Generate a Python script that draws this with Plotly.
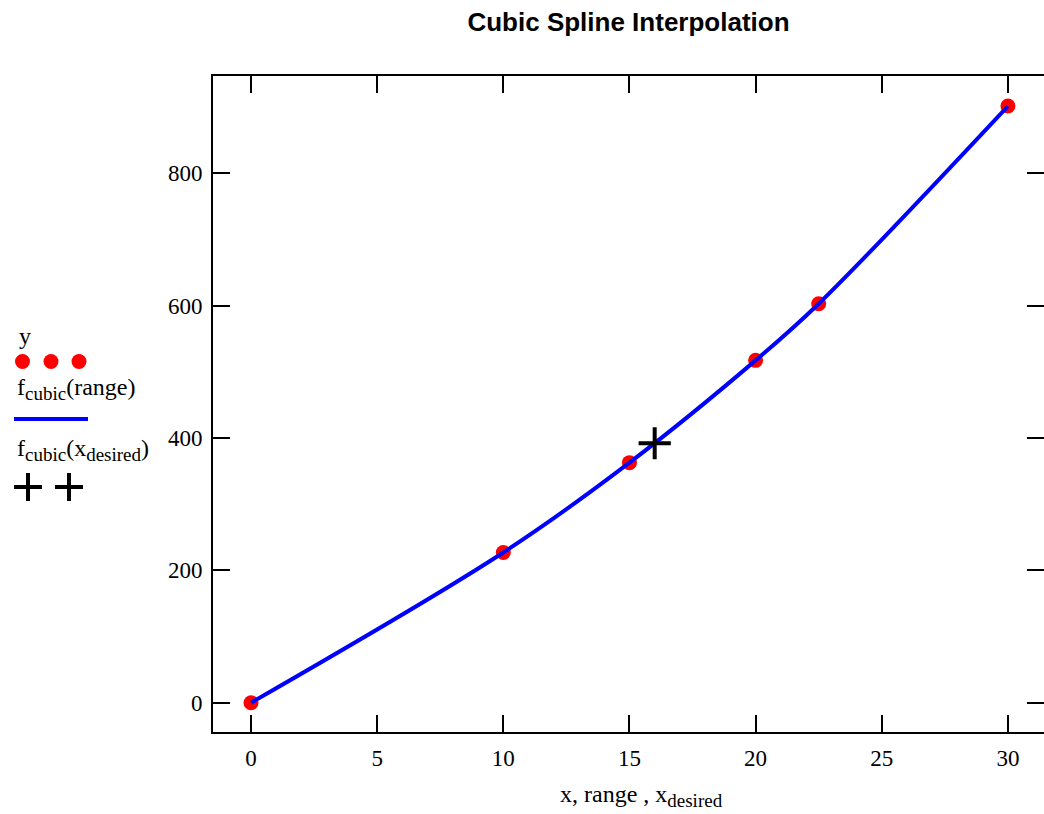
import plotly.graph_objects as go

# ---- data ----
x_nodes = [0, 10, 15, 20, 22.5, 30]
y_nodes = [0, 227.04, 362.78, 517.35, 602.97, 901.67]
x_desired = [16]
f_desired = [392.06]
x_ticks = [0, 5, 10, 15, 20, 25, 30]
y_ticks = [0, 200, 400, 600, 800]

W, H = 1044, 814
L, R, T, B = 213, 0, 76, 82
PW = W - L - R
PH = H - T - B


def px(xp):
    return (xp - L) / PW


def py(yp):
    return (H - B - yp) / PH


SERIF = "Liberation Serif, Times New Roman, serif"
SANS = "Liberation Sans, Arial, sans-serif"

fig = go.Figure()

# data points
fig.add_trace(go.Scatter(x=x_nodes, y=y_nodes, mode="markers",
                         marker=dict(color="#ff0000", size=15),
                         hoverinfo="skip", showlegend=False))
# spline curve
fig.add_trace(go.Scatter(x=x_nodes, y=y_nodes, mode="lines",
                         line=dict(color="#0000ff", width=4, shape="spline", smoothing=1.0),
                         hoverinfo="skip", showlegend=False))
# interpolated value
fig.add_trace(go.Scatter(x=x_desired, y=f_desired, mode="markers", yaxis="y2",
                         marker=dict(symbol="cross-thin", size=23, color="black",
                                     line=dict(color="black", width=4)),
                         hoverinfo="skip", showlegend=False))

xr = [-1.506, 31.43]
yr = [-44.3, 947.1]

fig.update_layout(
    width=W, height=H,
    margin=dict(l=L, r=R, t=T, b=B, pad=0),
    paper_bgcolor="white", plot_bgcolor="white",
    title=dict(text="<b>Cubic Spline Interpolation</b>",
               font=dict(family=SANS, size=26, color="black"),
               x=0.5, xref="paper", xanchor="center",
               y=1 - 22 / H, yref="container", yanchor="middle"),
    xaxis=dict(range=xr, tickvals=x_ticks, ticks="inside", ticklen=17, tickwidth=2,
               tickcolor="black", showline=True, linecolor="black", linewidth=2,
               mirror="ticks", showgrid=False, zeroline=False,
               tickfont=dict(family=SERIF, size=23, color="black"),
               ticklabelstandoff=4),
    yaxis=dict(range=yr, tickvals=y_ticks, ticks="inside", ticklen=17, tickwidth=2,
               tickcolor="black", showline=True, linecolor="black", linewidth=2,
               mirror=False, showgrid=False, zeroline=False,
               tickfont=dict(family=SERIF, size=23, color="black"),
               ticklabelstandoff=4),
    yaxis2=dict(range=yr, tickvals=y_ticks, ticks="inside", ticklen=17, tickwidth=2,
                tickcolor="black", showline=False, overlaying="y", side="right",
                showticklabels=False, showgrid=False, zeroline=False),
)

SUB = "<sub><span style='font-size:19px'>{}</span></sub>"

# x-axis title
fig.add_annotation(text="x, range , x" + SUB.format("desired"), xref="paper", yref="paper",
                   x=px(641), y=py(796), xanchor="center", yanchor="middle",
                   showarrow=False, font=dict(family=SERIF, size=24, color="black"))

# custom legend (left side)
leg_font = dict(family=SERIF, size=24, color="black")
fig.add_annotation(text="y", xref="paper", yref="paper", x=px(17), y=py(336),
                   xanchor="left", yanchor="middle", showarrow=False, font=leg_font)
fig.add_annotation(text="f" + SUB.format("cubic") + "(range)", xref="paper", yref="paper",
                   x=px(15), y=py(389), xanchor="left", yanchor="middle",
                   showarrow=False, font=leg_font)
fig.add_annotation(text="f" + SUB.format("cubic") + "(x" + SUB.format("desired") + ")",
                   xref="paper", yref="paper",
                   x=px(15), y=py(450), xanchor="left", yanchor="middle",
                   showarrow=False, font=leg_font)

shapes = []
for cx in (22.5, 51, 79):
    shapes.append(dict(type="circle", xref="paper", yref="paper",
                       xsizemode="pixel", ysizemode="pixel",
                       xanchor=px(cx), yanchor=py(361.5),
                       x0=-7.5, x1=7.5, y0=-7.5, y1=7.5,
                       fillcolor="#ff0000", line=dict(width=0)))
shapes.append(dict(type="line", xref="paper", yref="paper",
                   x0=px(14), x1=px(88), y0=py(419), y1=py(419),
                   line=dict(color="#0000ff", width=4)))
for cx in (28, 69):
    shapes.append(dict(type="line", xref="paper", yref="paper",
                       x0=px(cx - 14), x1=px(cx + 14), y0=py(487), y1=py(487),
                       line=dict(color="black", width=4)))
    shapes.append(dict(type="line", xref="paper", yref="paper",
                       x0=px(cx), x1=px(cx), y0=py(473), y1=py(501),
                       line=dict(color="black", width=4)))
fig.update_layout(shapes=shapes)

fig.write_html("out.html")
